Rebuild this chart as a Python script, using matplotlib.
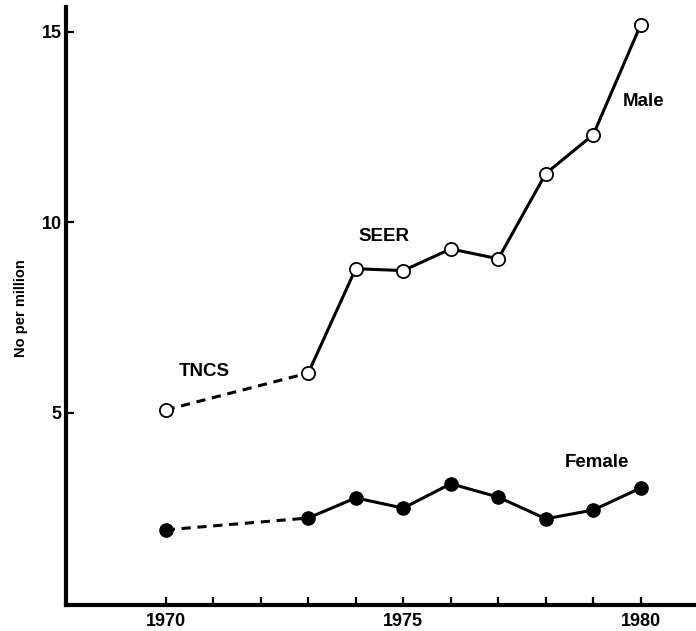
import matplotlib
matplotlib.use("Agg")
import matplotlib.pyplot as plt

plt.rcParams['font.family'] = ['Liberation Sans', 'DejaVu Sans']

years = [1970, 1973, 1974, 1975, 1976, 1977, 1978, 1979, 1980]
male = [5.07, 6.04, 8.78, 8.73, 9.30, 9.04, 11.28, 12.30, 15.19]
female = [1.92, 2.23, 2.76, 2.49, 3.13, 2.78, 2.21, 2.44, 3.02]
xticks = list(range(1970, 1981))
xticklabels = ['1970' if y == 1970 else '1975' if y == 1975 else '1980' if y == 1980 else '' for y in xticks]
yticks = [5, 10, 15]
ylabel = 'No per million'

fig = plt.figure(figsize=(6.96, 6.31), dpi=100)
ax = fig.add_axes([0.0948, 0.0412, 0.905, 0.948])

lw = 2.2
ms = 9.5
# dashed segments (TNCS to SEER)
ax.plot(years[:2], male[:2], color='black', lw=lw, ls=(0, (3, 2.2)), zorder=2)
ax.plot(years[:2], female[:2], color='black', lw=lw, ls=(0, (3, 2.2)), zorder=2)
# solid segments
ax.plot(years[1:], male[1:], color='black', lw=lw, zorder=2)
ax.plot(years[1:], female[1:], color='black', lw=lw, zorder=2)
# markers
ax.plot(years, male, ls='none', marker='o', ms=ms, mfc='white', mec='black', mew=1.3, zorder=3)
ax.plot(years, female, ls='none', marker='o', ms=ms, mfc='black', mec='black', zorder=3)

txt = dict(fontsize=13.5, fontweight='bold', ha='center', va='center')
ax.text(1970.82, 6.07, 'TNCS', **txt)
ax.text(1974.59, 9.63, 'SEER', **txt)
ax.text(1980.06, 13.16, 'Male', **txt)
ax.text(1979.07, 3.68, 'Female', **txt)

ax.set_xlim(1967.9, 1981.16)
ax.set_ylim(-0.055, 15.66)

for s in ['top', 'right']:
    ax.spines[s].set_visible(False)
for s in ['left', 'bottom']:
    ax.spines[s].set_linewidth(3)

ax.set_xticks(xticks)
ax.set_xticklabels(xticklabels)
ax.set_yticks(yticks)
ax.set_yticklabels([str(v) for v in yticks])
ax.tick_params(axis='both', direction='in', length=6, width=1.6, labelsize=13)
ax.tick_params(axis='x', pad=6)
ax.tick_params(axis='y', pad=3)
for lab in ax.get_xticklabels() + ax.get_yticklabels():
    lab.set_fontweight('bold')

ax.set_ylabel(ylabel, fontsize=10.5, fontweight='bold')
ax.yaxis.set_label_coords(-0.060, 0.497)

fig.savefig('out.png', dpi=100)
